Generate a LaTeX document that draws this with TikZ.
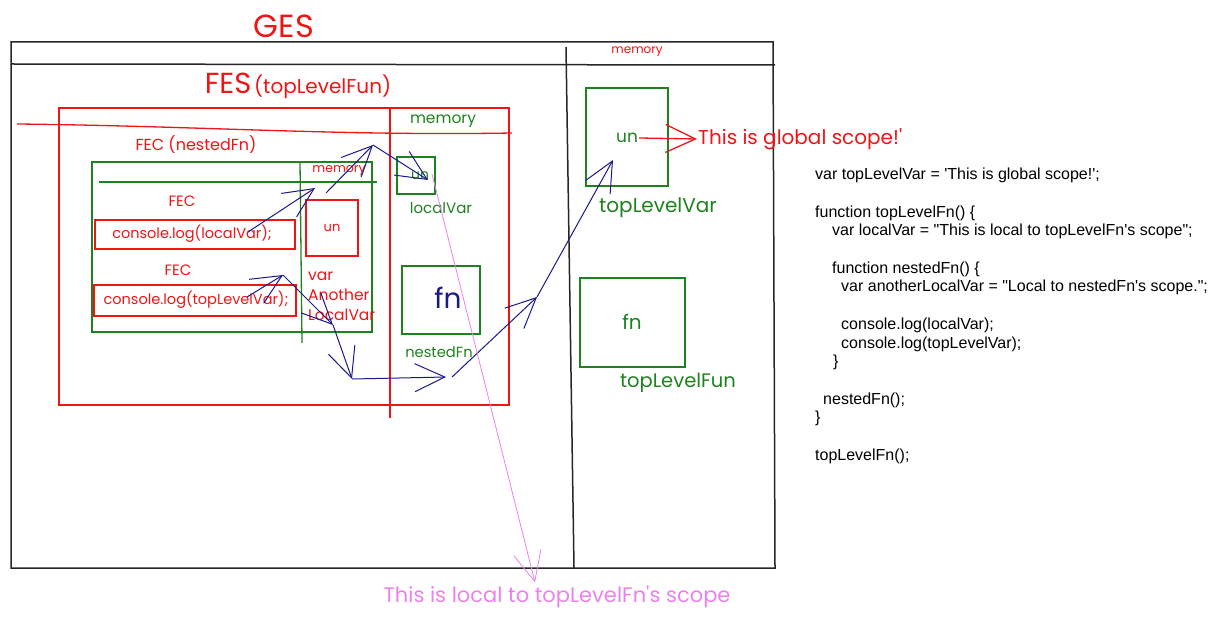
\documentclass[tikz,border=0pt]{standalone}
\usepackage{fontspec}
\setmainfont{Liberation Sans}
\newfontfamily\handfont{Poppins}
\newfontfamily\codefont{Liberation Sans}
\usetikzlibrary{arrows.meta}
\definecolor{gesred}{RGB}{240,20,20}
\definecolor{gesgreen}{RGB}{30,130,30}
\definecolor{flowblue}{RGB}{25,25,140}
\definecolor{scopepink}{RGB}{235,130,235}
\newcommand\handsize[1]{\handfont\fontsize{#1}{#1}\selectfont}
\tikzset{
  frame/.style={draw=black!85, line width=1.5pt},
  redline/.style={draw=gesred, line width=1.3pt},
  greenline/.style={draw=gesgreen, line width=1.3pt},
  redlabel/.style={text=gesred, inner sep=1pt},
  greenlabel/.style={text=gesgreen, inner sep=1pt},
  flow/.style={->, draw=flowblue, line width=1pt},
}
\begin{document}
\begin{tikzpicture}[x=1pt, y=-1pt, >={Straight Barb[length=30pt,width=28pt]}]
    \useasboundingbox (0,0) rectangle (1217,617);

    % global execution scope
    \draw[frame] (11,42) -- (773,42) -- (775,568) -- (11,568) -- cycle;
    \draw[frame] (11,64) -- (775,65);
    \draw[frame] (566,47) -- (574,568);
    \node[redlabel, font=\handsize{32}] (ges) at (284,26) {GES};
    \node[redlabel, font=\handsize{12}] (gesmem) at (637,52) {memory};

    % function execution scope
    \node[redlabel] (fes) at (298,86) {{\handsize{29}FES} {\handsize{20}(topLevelFun)}};
    \draw[redline] (59,108) rectangle (509,405);
    \draw[redline] (390,108) -- (390,418);
    \draw[redline] (17,124) .. controls (200,126) and (340,136) .. (512,133);
    \node[greenlabel, font=\handsize{15.5}] (fesmem) at (443,121) {memory};
    \node[redlabel, font=\handsize{16}] (fecnest) at (196,145) {FEC (nestedFn)};

    % nested function context
    \draw[greenline] (92,162) rectangle (372,332);
    \draw[greenline] (300,162) -- (302,343);
    \draw[greenline] (99,182) -- (377,182);
    \node[redlabel, font=\handsize{12.5}] (fecmem) at (339,171) {memory};
    \node[redlabel, font=\handsize{15}] (fecA) at (182,201) {FEC};
    \draw[redline] (95,220) rectangle (295,249);
    \node[redlabel, font=\handsize{14.5}] (logLocal) at (192,234) {console.log(localVar);};
    \draw[redline] (306,200) rectangle (358,256);
    \node[redlabel, font=\handsize{13}] (unA) at (332,228) {un};
    \node[redlabel, font=\handsize{15}] (fecB) at (178,270) {FEC};
    \draw[redline] (94,285) rectangle (296,316);
    \node[redlabel, font=\handsize{14.5}] (logTop) at (196,300) {console.log(topLevelVar);};
    \node[redlabel, font=\handfont\fontsize{15.5}{20}\selectfont, align=left, anchor=west] (anotherVar) at (307,296)
        {var\\Another\\LocalVar};

    % memory of topLevelFun
    \draw[greenline] (397,157) rectangle (435,194);
    \node[greenlabel, font=\handsize{14}] (unLocal) at (420,176) {un};
    \node[greenlabel, font=\handsize{15}] (localLbl) at (441,208) {localVar};
    \draw[greenline] (402,266) rectangle (480,334);
    \node[text=flowblue, font=\handsize{28}] (fnNested) at (448,298) {fn};
    \node[greenlabel, font=\handsize{14.7}] (nestedLbl) at (439,352) {nestedFn};

    % global memory
    \draw[greenline] (586,88) rectangle (668,186);
    \node[greenlabel, font=\handsize{17}] (unGlobal) at (627,138) {un};
    \node[redlabel, font=\handsize{20}, anchor=west] (globalVal) at (697,139) {This is global scope!'};
    \node[greenlabel, font=\handsize{20}] (topVarLbl) at (658,208) {topLevelVar};
    \draw[greenline] (580,278) rectangle (685,367);
    \node[greenlabel, font=\handsize{20}] (fnTop) at (632,322) {fn};
    \node[greenlabel, font=\handsize{19.5}] (topFunLbl) at (678,383) {topLevelFun};

    \node[text=scopepink, font=\handsize{21}] (localVal) at (557,597) {This is local to topLevelFn's scope};

    % lookup path of localVar
    \coordinate (a0) at (248,232);
    \coordinate (a1) at (315,188);
    \coordinate (b0) at (326,193);
    \coordinate (b1) at (373,145);
    \coordinate (c1) at (428,180);
    \draw[flow] (a0) -- (a1);
    \draw[flow] (b0) -- (b1);
    \draw[flow] (b1) -- (c1);

    % lookup path of topLevelVar
    \coordinate (d0) at (247,297);
    \coordinate (d1) at (283,275);
    \coordinate (e1) at (333,325);
    \coordinate (f1) at (352,379);
    \coordinate (g1) at (446,377);
    \coordinate (h0) at (452,377);
    \coordinate (h1) at (537,297);
    \coordinate (i1) at (613,160);
    \draw[flow] (d0) -- (d1);
    \draw[flow] (d1) -- (e1);
    \draw[flow] (e1) -- (f1);
    \draw[flow] (f1) -- (g1);
    \draw[flow] (h0) -- (h1);
    \draw[flow] (h1) -- (i1);

    % values
    \coordinate (p0) at (432,174);
    \draw[->, draw=scopepink, line width=0.8pt] (p0) -- (localVal.north -| 535,0);
    \draw[->, redline] (unGlobal.east) -- (globalVal.west);

    % source code
    \node[anchor=north west, inner sep=0pt, align=left, font=\codefont\fontsize{16}{18.7}\selectfont] (code) at (815,168)
        {var topLevelVar = 'This is global scope!';\\[18.7pt]
         function topLevelFn() \{\\
         \hspace*{17pt}var localVar = "This is local to topLevelFn's scope";\\[18.7pt]
         \hspace*{17pt}function nestedFn() \{\\
         \hspace*{26pt}var anotherLocalVar = "Local to nestedFn's scope.";\\[18.7pt]
         \hspace*{26pt}console.log(localVar);\\
         \hspace*{26pt}console.log(topLevelVar);\\
         \hspace*{18pt}\}\\[18.7pt]
         \hspace*{8pt}nestedFn();\\
         \}\\[18.7pt]
         topLevelFn();};
\end{tikzpicture}
\end{document}
